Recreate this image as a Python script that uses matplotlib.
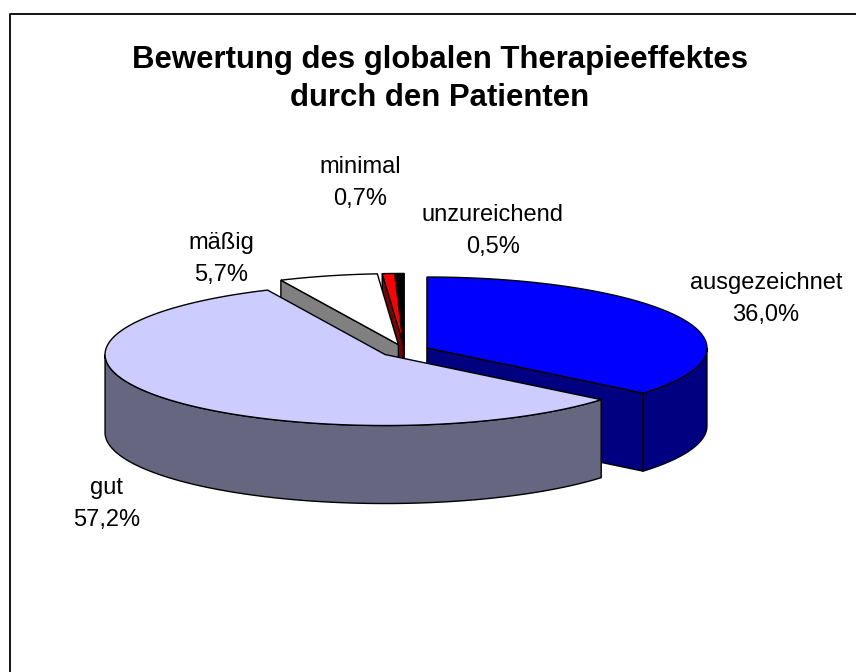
import numpy as np
from matplotlib import pyplot as plt
from matplotlib.patches import Polygon

# Werte aus dem Bild
labels = ['ausgezeichnet', 'gut', 'mäßig', 'minimal', 'unzureichend']
values = [36.0, 57.2, 5.7, 0.7, 0.5]
top_colors = ['#0000ff', '#ccccff', '#ffffff', '#ff0000', '#000000']
side_colors = ['#000080', '#666680', '#808080', '#800000', '#000000']
title = 'Bewertung des globalen Therapieeffektes\ndurch den Patienten'

# Geometrie der 3D-Torte in Pixeln
W, H = 856, 672
cx, cy = 404.6, 350.7
rx, ry = 280, 71
depth = 78
explode = 24.7

fig = plt.figure(figsize=(W / 100, H / 100), dpi=100)
ax = fig.add_axes([0, 0, 1, 1])
ax.set_xlim(0, W)
ax.set_ylim(H, 0)
ax.axis('off')

# Rahmen ist rechts und unten abgeschnitten
ax.plot([10.5, 10.5, W], [H, 13.5, 13.5], color='black', lw=1.3)

frac = np.array(values) / sum(values)
ends = np.cumsum(frac) * 2 * np.pi
starts = ends - frac * 2 * np.pi


def rim(a, x0, y0):
    return x0 + rx * np.sin(a), y0 - ry * np.cos(a)


def draw_slice(i, z):
    a0, a1 = starts[i], ends[i]
    mid = (a0 + a1) / 2
    x0 = cx + explode * np.sin(mid)
    y0 = cy - explode * ry / rx * np.cos(mid)
    aa = np.linspace(a0, a1, 200)
    xs, ys = rim(aa, x0, y0)

    # Schnittflaechen
    for a in (a0, a1):
        xe, ye = rim(a, x0, y0)
        # nur sichtbare Schnittflaeche zeichnen
        if (a == a1 and a < np.pi) or (a == a0 and a > np.pi):
            wall = [(x0, y0), (xe, ye), (xe, ye + depth), (x0, y0 + depth)]
            ax.add_patch(Polygon(wall, fc=side_colors[i], ec='black', lw=1, zorder=z))

    # Aussenwand, nur vordere Haelfte
    lo, hi = max(a0, np.pi / 2), min(a1, 3 * np.pi / 2)
    if hi > lo:
        bb = np.linspace(lo, hi, 200)
        bx, by = rim(bb, x0, y0)
        pts = list(zip(bx, by)) + list(zip(bx[::-1], by[::-1] + depth))
        ax.add_patch(Polygon(pts, fc=side_colors[i], ec='black', lw=1, zorder=z))

    pts = [(x0, y0)] + list(zip(xs, ys))
    ax.add_patch(Polygon(pts, fc=top_colors[i], ec='black', lw=1, zorder=z + 0.5))


# von hinten nach vorne
for z, i in enumerate([4, 3, 2, 0, 1]):
    draw_slice(i, z + 1)

ax.text(440, 79, title, ha='center', va='center', fontsize=22.4, fontweight='bold',
        family='Liberation Sans', linespacing=1.33, color='black')

label_pos = [(766, 299), (107, 504), (221, 259), (360, 183), (493, 231)]
for i, lab in enumerate(labels):
    txt = lab + '\n' + f'{values[i]:.1f}'.replace('.', ',') + '%'
    ax.text(label_pos[i][0], label_pos[i][1], txt, ha='center', va='center', fontsize=17,
            family='Liberation Sans', linespacing=1.55, zorder=10)

fig.savefig('out.png', dpi=100)
